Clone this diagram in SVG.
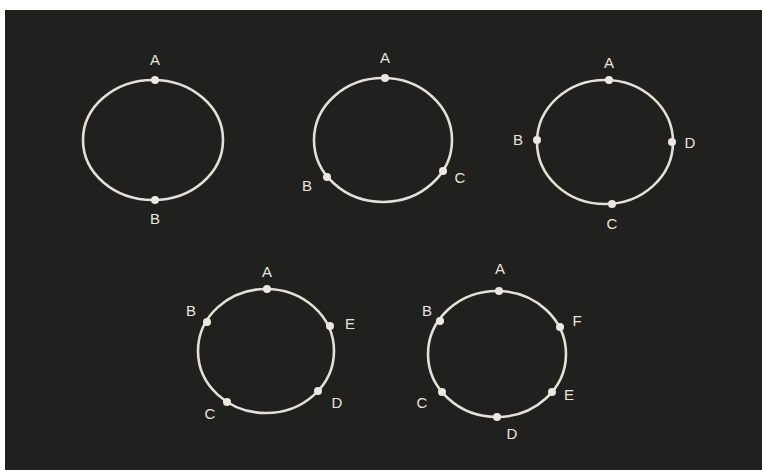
<svg xmlns="http://www.w3.org/2000/svg" width="762" height="470" viewBox="0 0 762 470">
<style>
.ring{fill:none;stroke:#e4e0d8;stroke-width:2.6}
.pt{fill:#ece8e0}
.lb{font-family:"Liberation Sans",Arial,sans-serif;font-size:15px;fill:#e8e4dc;text-anchor:middle;dominant-baseline:central}
</style>
<rect width="762" height="470" fill="#ffffff"/>
<rect x="5" y="10" width="757" height="460" fill="#20201e"/>
<g id="fig1">
<ellipse class="ring" cx="153" cy="140" rx="70" ry="60"/>
<circle class="pt" cx="155" cy="80" r="4"/><text class="lb" x="155" y="59">A</text>
<circle class="pt" cx="155" cy="200" r="4"/><text class="lb" x="155" y="218">B</text>
</g>
<g id="fig2">
<ellipse class="ring" cx="383" cy="140" rx="69" ry="62"/>
<circle class="pt" cx="385" cy="78" r="4"/><text class="lb" x="385" y="57">A</text>
<circle class="pt" cx="327" cy="177" r="4"/><text class="lb" x="307" y="185">B</text>
<circle class="pt" cx="443" cy="171" r="4"/><text class="lb" x="460" y="177">C</text>
</g>
<g id="fig3">
<ellipse class="ring" cx="605" cy="142" rx="68" ry="62"/>
<circle class="pt" cx="609" cy="80" r="4"/><text class="lb" x="609" y="62">A</text>
<circle class="pt" cx="537" cy="140" r="4"/><text class="lb" x="518" y="139">B</text>
<circle class="pt" cx="672" cy="142" r="4"/><text class="lb" x="690" y="142">D</text>
<circle class="pt" cx="612" cy="204" r="4"/><text class="lb" x="612" y="223">C</text>
</g>
<g id="fig4">
<ellipse class="ring" cx="266" cy="351" rx="68" ry="62"/>
<circle class="pt" cx="267" cy="289" r="4"/><text class="lb" x="267" y="271">A</text>
<circle class="pt" cx="207" cy="322" r="4"/><text class="lb" x="191" y="310">B</text>
<circle class="pt" cx="330" cy="326" r="4"/><text class="lb" x="350" y="323">E</text>
<circle class="pt" cx="318" cy="391" r="4"/><text class="lb" x="337" y="402">D</text>
<circle class="pt" cx="227" cy="402" r="4"/><text class="lb" x="210" y="413">C</text>
</g>
<g id="fig5">
<ellipse class="ring" cx="497" cy="354" rx="69" ry="63"/>
<circle class="pt" cx="499" cy="291" r="4"/><text class="lb" x="500" y="268">A</text>
<circle class="pt" cx="440" cy="321" r="4"/><text class="lb" x="427" y="310">B</text>
<circle class="pt" cx="560" cy="327" r="4"/><text class="lb" x="577" y="320">F</text>
<circle class="pt" cx="552" cy="392" r="4"/><text class="lb" x="569" y="394">E</text>
<circle class="pt" cx="497" cy="417" r="4"/><text class="lb" x="512" y="433">D</text>
<circle class="pt" cx="442" cy="392" r="4"/><text class="lb" x="422" y="402">C</text>
</g>
</svg>
